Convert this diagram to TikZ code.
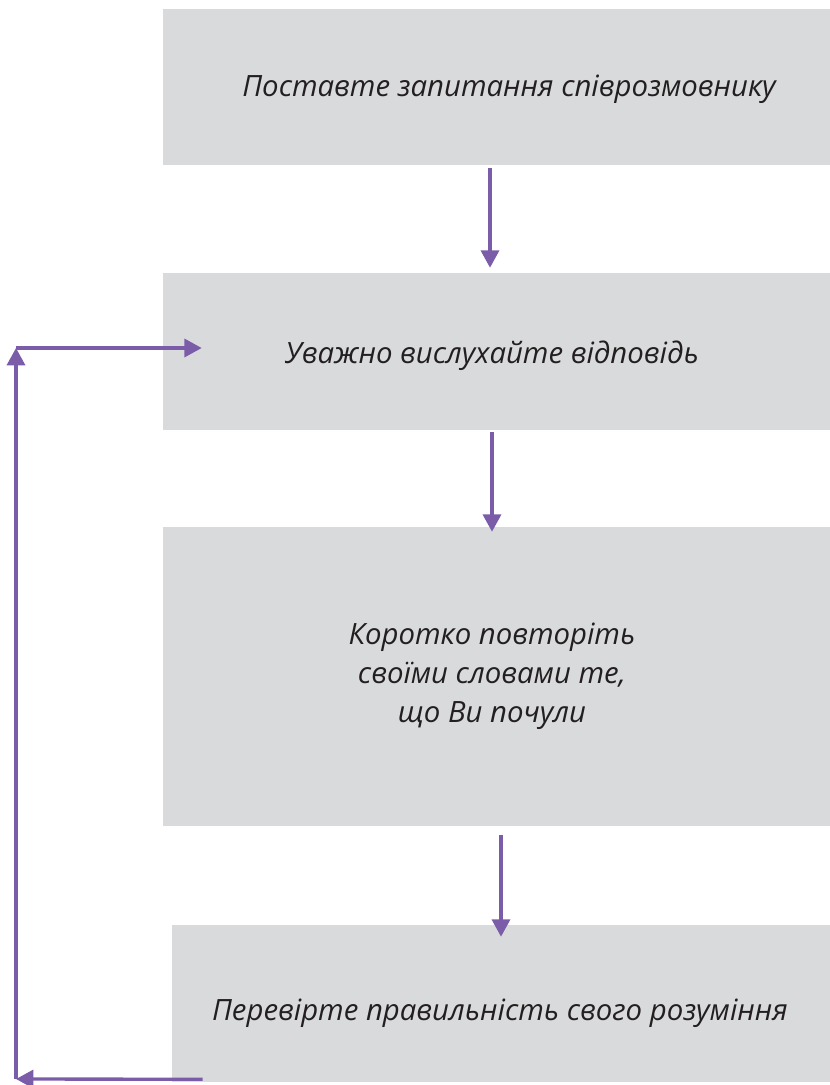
\documentclass[tikz,border=0pt]{standalone}
\usepackage{fontspec}
\setmainfont{Open Sans}
\usetikzlibrary{arrows.meta}
\definecolor{boxgray}{HTML}{D9DADC}
\definecolor{arrowpurple}{HTML}{7B5CA8}
\definecolor{textdark}{HTML}{231F20}
\tikzset{
  box/.style={draw=none, fill=boxgray, rectangle, inner sep=0pt},
  arr/.style={draw=arrowpurple, line width=2.5pt, -{Triangle[width=13.5pt,length=13pt]}},
  lbl/.style={anchor=base, text=textdark, font=\fontsize{22}{29}\selectfont\itshape, inner sep=0pt}
}
\begin{document}
\begin{tikzpicture}[x=0.75pt,y=-0.75pt]
\useasboundingbox (0,0) rectangle (830,1085);
\node[box, minimum width=500.25pt, minimum height=117pt] (b1) at (496.5,87) {};
\node[box, minimum width=500.25pt, minimum height=117.75pt] (b2) at (496.5,351.5) {};
\node[box, minimum width=500.25pt, minimum height=224.25pt] (b3) at (496.5,676.5) {};
\node[box, minimum width=493.5pt, minimum height=117.75pt] (b4) at (501,1003.5) {};
\node[lbl] (t1) at (509,96) {Поставте запитання співрозмовнику};
\node[lbl] (t2) at (492,363) {Уважно вислухайте відповідь};
\node[lbl] (t3a) at (492,644) {Коротко повторіть};
\node[lbl] (t3b) at (492,683) {своїми словами те,};
\node[lbl] (t3c) at (492,722) {що Ви почули};
\node[lbl] (t4) at (500,1020) {Перевірте правильність свого розуміння};
\draw[arr] ([xshift=-4.875pt,yshift=-2.25pt]b1.south) -- ([xshift=-4.875pt,yshift=3.75pt]b2.north);
\draw[arr] ([xshift=-3.375pt,yshift=-1.5pt]b2.south) -- ([xshift=-3.375pt,yshift=-3.75pt]b3.north);
\draw[arr] ([xshift=3.375pt,yshift=-6.75pt]b3.south) -- ([yshift=-9pt]b4.north);
\coordinate (c1) at (16,1079);
\coordinate (c2) at (16,348);
\draw[arr] ([xshift=23.25pt,yshift=2.25pt]b4.south west) -- (c1);
\draw[arr] (c1) -- (c2);
\draw[arr] (c2) -- ([xshift=29.25pt,yshift=2.625pt]b2.west);
\end{tikzpicture}
\end{document}
